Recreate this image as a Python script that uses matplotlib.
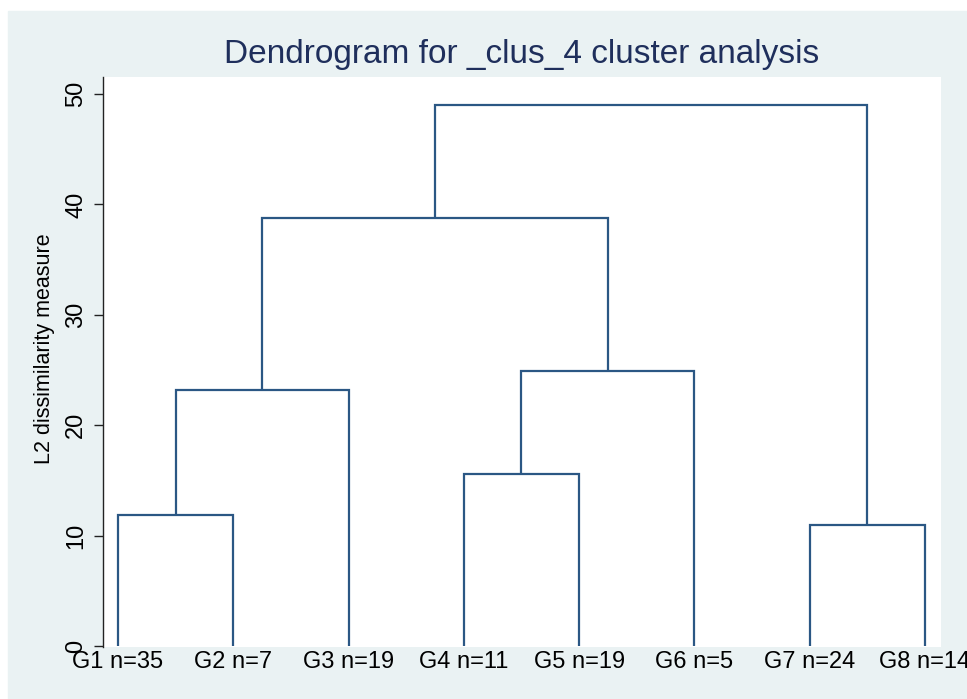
import matplotlib.pyplot as plt
from matplotlib.patches import Rectangle

# leaf labels (left to right) and the merges, scipy-linkage style:
# each merge joins two clusters; new clusters get index len(leaves)+i
leaves = ['G1 n=35', 'G2 n=7', 'G3 n=19', 'G4 n=11',
          'G5 n=19', 'G6 n=5', 'G7 n=24', 'G8 n=14']
merge_left = [0, 8, 3, 10, 9, 6, 12]
merge_right = [1, 2, 4, 5, 11, 7, 13]
merge_height = [11.9, 23.2, 15.6, 24.9, 38.8, 11.0, 49.0]

title = 'Dendrogram for _clus_4 cluster analysis'
ylabel = 'L2 dissimilarity measure'
yticks = [0, 10, 20, 30, 40, 50]

line_col = '#2b5784'
bg_col = '#eaf2f3'

plt.rcParams['font.family'] = ['Liberation Sans', 'DejaVu Sans']

W, H = 967, 699
fig = plt.figure(figsize=(W / 100, H / 100), dpi=100, facecolor='white')
fig.patches.append(Rectangle((8 / W, 0), 1 - 8 / W, (H - 11) / H,
                             transform=fig.transFigure, color=bg_col, zorder=-10))

# plot area in pixels: x 103..941, y 77..647
ax = fig.add_axes([103 / W, (H - 647) / H, (941 - 103) / W, (647 - 77) / H])
ax.set_facecolor('white')

# positions: leaves at 1..n, merged node at mid of its children
xpos = {i: i + 1 for i in range(len(leaves))}
ypos = {i: 0.0 for i in range(len(leaves))}
n = len(leaves)
for k, (a, b, h) in enumerate(zip(merge_left, merge_right, merge_height)):
    xa, xb = xpos[a], xpos[b]
    ax.plot([xa, xa, xb, xb], [ypos[a], h, h, ypos[b]],
            color=line_col, lw=1.6, solid_joinstyle='miter', solid_capstyle='butt')
    xpos[n + k] = (xa + xb) / 2
    ypos[n + k] = h

ax.set_xlim(0.87, 8.139)
ax.set_ylim(-0.09, 51.54)

for s in ['top', 'right', 'bottom']:
    ax.spines[s].set_visible(False)
ax.spines['left'].set_color('#222222')
ax.spines['left'].set_linewidth(1.0)

ax.set_xticks(range(1, n + 1))
ax.set_xticklabels(leaves, fontsize=17)
ax.tick_params(axis='x', length=0, pad=3)

ax.set_yticks(yticks)
ax.set_yticklabels([str(t) for t in yticks], fontsize=17, rotation=90, va='center')
ax.tick_params(axis='y', length=6.5, width=1.0, color='#222222', pad=5)

fig.text(45 / W, (H - 349) / H, ylabel, rotation=90, ha='center', va='center',
         fontsize=15.5)
fig.text(522 / W, (H - 63) / H, title, ha='center', va='baseline',
         fontsize=24, color='#1f2f5c')

fig.savefig('out.png', dpi=100, facecolor=fig.get_facecolor())
